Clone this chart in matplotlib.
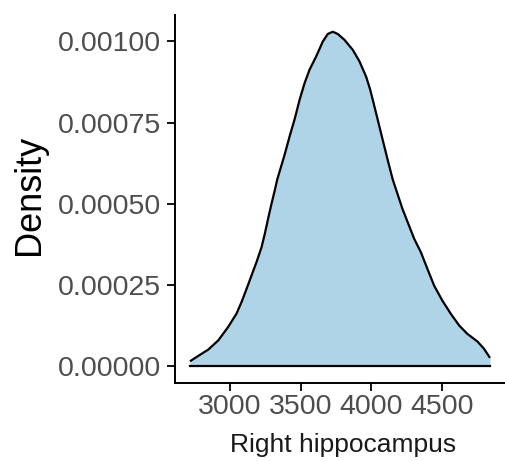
import matplotlib
matplotlib.use("Agg")
import matplotlib.pyplot as plt
import numpy as np

# Density curve
x_vals = [2718, 2776, 2847, 2918, 2988, 3047, 3083, 3118, 3153, 3188, 3224, 3247,
          3270, 3294, 3317, 3336, 3388, 3423, 3458, 3494, 3529, 3564, 3611, 3658,
          3693, 3728, 3764, 3811, 3870, 3917, 3964, 3993, 4011, 4046, 4081, 4116,
          4152, 4222, 4305, 4352, 4398, 4446, 4504, 4563, 4622, 4680,
          4751, 4798, 4841]
density = [0.0000153, 0.0000319, 0.0000512, 0.0000797, 0.000121, 0.000162, 0.000198,
           0.000238, 0.000279, 0.00032, 0.000366, 0.000407, 0.000453, 0.000499,
           0.00054, 0.000576, 0.000652, 0.000708, 0.00076, 0.000821, 0.000872,
           0.000913, 0.000954, 0.001, 0.001023, 0.00103, 0.001023, 0.001005,
           0.000974, 0.000939, 0.000892, 0.000852, 0.000821, 0.00076, 0.000698,
           0.000637, 0.000576, 0.000484, 0.000392, 0.000351,
           0.0003, 0.000248, 0.000202, 0.000162, 0.000126, 0.0001, 0.0000767,
           0.0000543, 0.0000258]

x_ticks = [3000, 3500, 4000, 4500]
y_ticks = [0.0, 0.00025, 0.0005, 0.00075, 0.001]
y_tick_labels = ["0.00000", "0.00025", "0.00050", "0.00075", "0.00100"]

plt.rcParams['font.family'] = ['Liberation Sans', 'DejaVu Sans']

fig = plt.figure(figsize=(5.05, 4.61), dpi=100)
ax = fig.add_axes([175/505, 78/461, 330/505, 368/461])

xs = np.array(x_vals)
ys = np.array(density)
ax.fill_between(xs, 0, ys, color="#AFD4E8", linewidth=0, zorder=1)
ax.plot(xs, ys, color="black", linewidth=1.6, zorder=2,
        solid_joinstyle='round', solid_capstyle='butt')
ax.plot([xs[0], xs[-1]], [0, 0], color="black", linewidth=1.6, zorder=2)

rng = xs.max() - xs.min()
ax.set_xlim(xs.min() - 0.05 * rng, xs.max() + 0.05 * rng)
ymax = ys.max()
ax.set_ylim(-0.05 * ymax, ymax * 1.05)

ax.set_xticks(x_ticks)
ax.set_xticklabels([str(t) for t in x_ticks])
ax.set_yticks(y_ticks)
ax.set_yticklabels(y_tick_labels)

for s in ['top', 'right']:
    ax.spines[s].set_visible(False)
for s in ['left', 'bottom']:
    ax.spines[s].set_linewidth(1.4)
    ax.spines[s].set_color('black')

ax.tick_params(axis='both', which='major', length=6, width=1.3, color='black',
               labelsize=20.5, labelcolor='#4D4D4D')
ax.tick_params(axis='y', pad=4)
ax.tick_params(axis='x', pad=2)

ax.set_ylabel("Density", fontsize=26, color='black', va='center')
ax.yaxis.set_label_coords(-0.44, 0.51)
ax.set_xlabel("Right hippocampus", fontsize=19, color='#1A1A1A', va='center')
ax.xaxis.set_label_coords(0.51, -0.168)

fig.savefig("out.png", dpi=100)
